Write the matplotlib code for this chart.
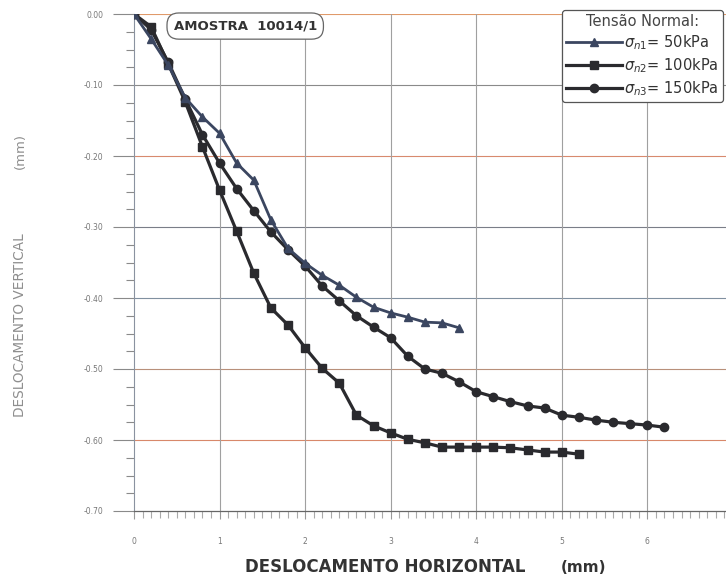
import matplotlib.pyplot as plt
from matplotlib.ticker import MultipleLocator

# deslocamento horizontal (mm) x deslocamento vertical (mm)
x_50 = [0.0, 0.2, 0.4, 0.6, 0.8, 1.0, 1.2, 1.4, 1.6, 1.8, 2.0, 2.2, 2.4, 2.6,
        2.8, 3.0, 3.2, 3.4, 3.6, 3.8]
y_50 = [0.0, -0.035, -0.072, -0.118, -0.145, -0.168, -0.210, -0.234, -0.290,
        -0.330, -0.351, -0.368, -0.382, -0.399, -0.413, -0.421, -0.427,
        -0.434, -0.435, -0.442]

x_100 = [0.0, 0.2, 0.4, 0.6, 0.8, 1.0, 1.2, 1.4, 1.6, 1.8, 2.0, 2.2, 2.4, 2.6,
         2.8, 3.0, 3.2, 3.4, 3.6, 3.8, 4.0, 4.2, 4.4, 4.6, 4.8, 5.0, 5.2]
y_100 = [0.0, -0.018, -0.070, -0.124, -0.187, -0.248, -0.306, -0.365, -0.414,
         -0.438, -0.470, -0.499, -0.520, -0.565, -0.580, -0.590, -0.599,
         -0.604, -0.610, -0.610, -0.610, -0.610, -0.611, -0.614, -0.617,
         -0.617, -0.620]

x_150 = [0.0, 0.2, 0.4, 0.6, 0.8, 1.0, 1.2, 1.4, 1.6, 1.8, 2.0, 2.2, 2.4, 2.6,
         2.8, 3.0, 3.2, 3.4, 3.6, 3.8, 4.0, 4.2, 4.4, 4.6, 4.8, 5.0, 5.2, 5.4,
         5.6, 5.8, 6.0, 6.2]
y_150 = [0.0, -0.022, -0.068, -0.120, -0.170, -0.210, -0.246, -0.277, -0.307,
         -0.332, -0.355, -0.383, -0.404, -0.425, -0.441, -0.456, -0.482,
         -0.500, -0.506, -0.518, -0.532, -0.539, -0.546, -0.552, -0.555,
         -0.565, -0.568, -0.572, -0.575, -0.577, -0.579, -0.582]

labels = [r'$\sigma_{n1}$= 50kPa', r'$\sigma_{n2}$= 100kPa', r'$\sigma_{n3}$= 150kPa']

fig = plt.figure(figsize=(7.26, 5.78), dpi=100)
ax = fig.add_axes([134 / 726, 1 - 511 / 578, 1 - 134 / 726, (511 - 14) / 578])

l1, = ax.plot(x_50, y_50, '-^', color='#3b4660', lw=2.0, ms=6, zorder=5)
l2, = ax.plot(x_100, y_100, '-s', color='#2a2a2e', lw=2.3, ms=6, zorder=4)
l3, = ax.plot(x_150, y_150, '-o', color='#2a2a2e', lw=2.3, ms=6, zorder=3)

ax.set_xlim(0, 6.92)
ax.set_ylim(-0.70, 0.0)

# grade: linhas horizontais coloridas como no original escaneado
hcolors = ['#e09a6a', '#8a8a8a', '#d88a6e', '#7a7e88', '#8090a0', '#b8907a', '#d8886a']
yvals = [0.0, -0.1, -0.2, -0.3, -0.4, -0.5, -0.6]
for yv, c in zip(yvals, hcolors):
    ax.axhline(yv, color=c, lw=0.8, zorder=1)
for xv in [1, 2, 3, 4, 5, 6]:
    ax.axvline(xv, color='#a0a0a0', lw=0.8, zorder=1)

for s in ['top', 'right']:
    ax.spines[s].set_visible(False)
ax.spines['left'].set_color('#8a92a0')
ax.spines['left'].set_linewidth(0.8)
ax.spines['bottom'].set_color('#666666')
ax.spines['bottom'].set_linewidth(0.9)

ax.xaxis.set_major_locator(MultipleLocator(1))
ax.xaxis.set_minor_locator(MultipleLocator(0.1))
ax.yaxis.set_major_locator(MultipleLocator(0.1))
ax.yaxis.set_minor_locator(MultipleLocator(0.025))
ax.yaxis.set_major_formatter(lambda v, p: '0.00' if abs(v) < 1e-9 else f'{v:.2f}')

ax.tick_params(axis='y', which='major', length=15, width=0.8, color='#8a8a8a',
               labelsize=5.5, labelcolor='#777777', pad=7)
ax.tick_params(axis='y', which='minor', length=6, width=0.8, color='#8a8a8a')
ax.tick_params(axis='x', which='major', length=6, width=0.8, color='#999999',
               labelsize=5.5, labelcolor='#777777', pad=13)
ax.tick_params(axis='x', which='minor', length=5, width=0.8, color='#aaaaaa')
for t, c in zip(ax.yaxis.get_major_ticks()[::-1], ['#666666'] + hcolors[::-1]):
    t.tick1line.set_color(c)

ax.text(1.30, -0.017, 'AMOSTRA  10014/1', fontsize=9.5, fontweight='bold',
        color='#333333', ha='center', va='center', zorder=6,
        bbox=dict(boxstyle='round,pad=0.5,rounding_size=0.9', fc='white',
                  ec='#666666', lw=0.9))

leg = ax.legend([l1, l2, l3], labels, title='Tensão Normal:', loc='upper left',
                bbox_to_anchor=(562 / 726, 1 - 10 / 578),
                bbox_transform=fig.transFigure, borderaxespad=0,
                fontsize=10.5, title_fontsize=10.5,
                handlelength=3.8, handletextpad=0.15, labelspacing=0.28,
                borderpad=0.3, fancybox=True, framealpha=1, edgecolor='#555555')
leg.get_frame().set_linewidth(0.9)
leg.set_zorder(7)
for t in leg.get_texts():
    t.set_color('#333333')
leg.get_title().set_color('#444444')

fig.text(385 / 726, 1 - 567 / 578, 'DESLOCAMENTO HORIZONTAL',
         fontsize=12, fontweight='bold', color='#333333', ha='center', va='center')
fig.text(583 / 726, 1 - 567 / 578, '(mm)',
         fontsize=11, fontweight='bold', color='#333333', ha='center', va='center')
fig.text(20 / 726, 1 - 325 / 578, 'DESLOCAMENTO VERTICAL',
         fontsize=9.8, color='#8e8e8e', rotation=90, ha='center', va='center')
fig.text(20 / 726, 1 - 151 / 578, '(mm)',
         fontsize=9.5, color='#8e8e8e', rotation=90, ha='center', va='center')

fig.savefig('out.png', dpi=100)
